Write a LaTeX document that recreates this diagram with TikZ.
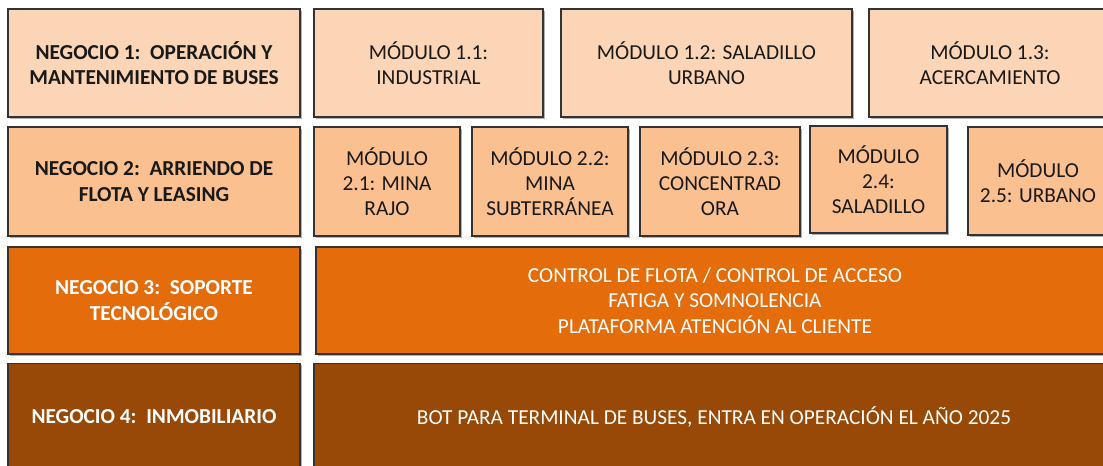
\documentclass[tikz,border=0pt]{standalone}
\usepackage{fontspec}
\setmainfont{Carlito}
\usetikzlibrary{shadows}

% colores de las filas
\definecolor{naranjaA}{HTML}{FBD5B5}
\definecolor{naranjaB}{HTML}{FAC090}
\definecolor{naranjaC}{HTML}{E46C0A}
\definecolor{naranjaD}{HTML}{984807}

\begin{document}
\begin{tikzpicture}[x=0.75pt, y=-0.75pt,
    caja/.style={rectangle, draw=black!80, line width=0.9pt, align=center, inner sep=2pt,
        font=\fontsize{16}{19}\selectfont, text=black!90,
        drop shadow={shadow xshift=1.2pt, shadow yshift=-1.2pt, opacity=0.3, fill=black}},
    negocio/.style={minimum width=219pt, font=\fontsize{16}{19}\selectfont\bfseries},
    filaA/.style={caja, fill=naranjaA, minimum height=81pt},
    filaB/.style={caja, fill=naranjaB, minimum height=81.75pt},
    filaC/.style={caja, fill=naranjaC, minimum height=80.25pt, text=white},
    filaD/.style={caja, fill=naranjaD, minimum height=80pt, text=white}]
    \useasboundingbox (0,0) rectangle (1103,465);
    \clip (0,0) rectangle (1103,465);

    % negocio 1 y sus modulos
    \node[filaA, negocio] (n1) at (154, 63) {NEGOCIO 1:\ \ OPERACIÓN Y\\MANTENIMIENTO DE BUSES};
    \node[filaA, minimum width=171.75pt] (m11) at (428.5, 63) {MÓDULO 1.1:\\INDUSTRIAL};
    \node[filaA, minimum width=218.25pt] (m12) at (706.5, 63) {MÓDULO 1.2: SALADILLO\\URBANO};
    \node[filaA, minimum width=181.5pt] (m13) at (990, 63) {MÓDULO 1.3:\\ACERCAMIENTO};

    % negocio 2 y sus modulos
    \node[filaB, negocio] (n2) at (154, 181.5) {NEGOCIO 2:\ \ ARRIENDO DE\\FLOTA Y LEASING};
    \node[filaB, minimum width=109.5pt] (m21) at (387, 181.5) {MÓDULO\\2.1: MINA\\RAJO};
    \node[filaB, minimum width=117pt] (m22) at (550, 181.5) {MÓDULO 2.2:\\MINA\\SUBTERRÁNEA};
    \node[filaB, minimum width=120pt] (m23) at (720, 181.5) {MÓDULO 2.3:\\CONCENTRAD\\ORA};
    \node[filaB, minimum width=102.75pt, minimum height=80.25pt] (m24) at (878.5, 179.5) {MÓDULO\\2.4:\\SALADILLO};
    \node[filaB, minimum width=105pt, minimum height=81pt] (m25) at (1038, 181) {MÓDULO\\2.5: URBANO};

    % negocio 3
    \node[filaC, negocio] (n3) at (154, 300.5) {NEGOCIO 3:\ \ SOPORTE\\TECNOLÓGICO};
    \node[filaC, minimum width=598.5pt] (c3) at (715, 300.5) {CONTROL DE FLOTA / CONTROL DE ACCESO\\FATIGA Y SOMNOLENCIA\\PLATAFORMA ATENCIÓN AL CLIENTE};

    % negocio 4
    \node[filaD, negocio] (n4) at (154, 417) {NEGOCIO 4:\ \ INMOBILIARIO};
    \node[filaD, minimum width=600pt] (c4) at (714, 417) {BOT PARA TERMINAL DE BUSES, ENTRA EN OPERACIÓN EL AÑO 2025};
\end{tikzpicture}
\end{document}
